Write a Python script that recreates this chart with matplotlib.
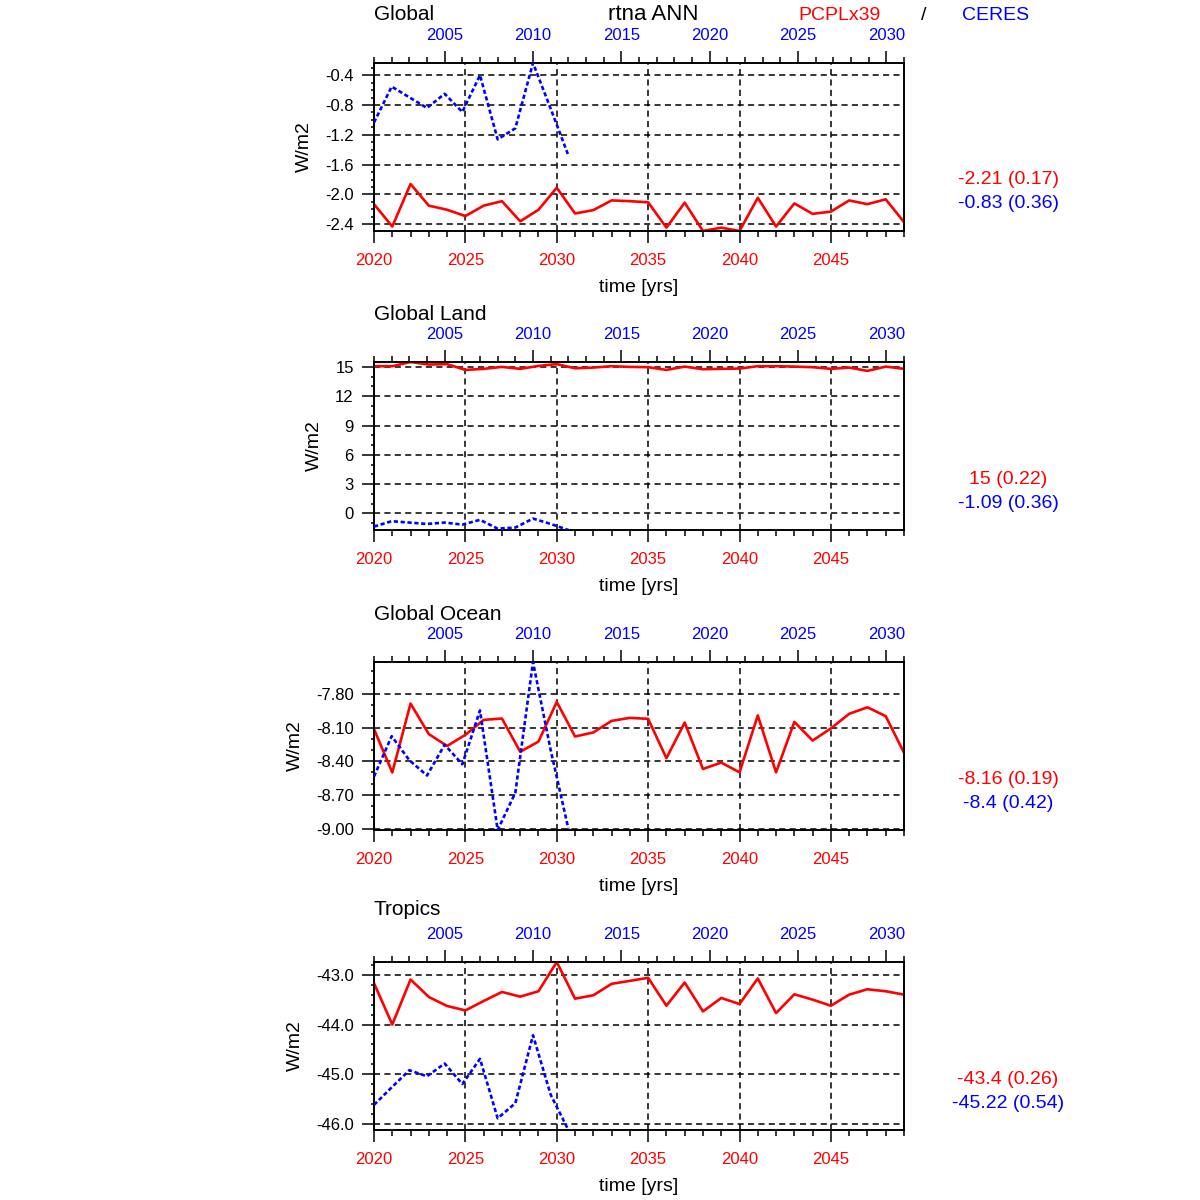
import matplotlib.pyplot as plt
import matplotlib.ticker as mticker

plt.rcParams['font.family'] = ['Liberation Sans', 'DejaVu Sans']

# years for the model run (bottom axis) and for the observations (top axis)
model_years = list(range(2020, 2050))
obs_years = list(range(2001, 2013))

regions = ["Global", "Global Land", "Global Ocean", "Tropics"]

model_global = [-2.13, -2.43, -1.86, -2.15, -2.205, -2.29, -2.15, -2.09, -2.36, -2.205,
                -1.91, -2.255, -2.21, -2.08, -2.09, -2.105, -2.445, -2.11, -2.49, -2.445,
                -2.49, -2.045, -2.43, -2.12, -2.26, -2.23, -2.08, -2.13, -2.065, -2.37]
obs_global = [-1.035, -0.554, -0.697, -0.84, -0.65, -0.894, -0.40, -1.262, -1.112, -0.237,
              -0.85, -1.475]

model_land = [15.07, 15.07, 15.5, 15.24, 15.28, 14.69, 14.8, 15.0, 14.8, 15.1,
              15.28, 14.86, 14.93, 15.07, 15.0, 14.97, 14.69, 15.03, 14.76, 14.8,
              14.83, 15.07, 15.07, 15.03, 14.97, 14.8, 14.93, 14.59, 15.03, 14.8]
obs_land = [-1.34, -0.79, -0.93, -1.07, -0.93, -1.14, -0.65, -1.55, -1.44, -0.52,
            -1.07, -1.69]

model_ocean = [-8.114, -8.50, -7.887, -8.159, -8.264, -8.165, -8.032, -8.02, -8.316, -8.225,
               -7.872, -8.18, -8.144, -8.041, -8.014, -8.023, -8.373, -8.056, -8.469, -8.412,
               -8.499, -7.993, -8.499, -8.05, -8.216, -8.108, -7.978, -7.92, -7.999, -8.325]
obs_ocean = [-8.536, -8.177, -8.391, -8.527, -8.253, -8.427, -7.948, -9.012, -8.68, -7.517,
             -8.30, -9.0]

model_tropics = [-43.169, -44.0, -43.095, -43.446, -43.628, -43.716, -43.527, -43.345, -43.439, -43.331,
                 -42.743, -43.48, -43.412, -43.182, -43.122, -43.061, -43.622, -43.155, -43.736, -43.466,
                 -43.588, -43.074, -43.77, -43.392, -43.5, -43.622, -43.399, -43.291, -43.331, -43.399]
obs_tropics = [-45.615, -45.264, -44.919, -45.04, -44.784, -45.196, -44.689, -45.885, -45.581, -44.216,
               -45.41, -46.12]

model_series = [model_global, model_land, model_ocean, model_tropics]
obs_series = [obs_global, obs_land, obs_ocean, obs_tropics]

# mean (std) labels shown to the right of each panel
model_stats = ["-2.21 (0.17)", "15 (0.22)", "-8.16 (0.19)", "-43.4 (0.26)"]
obs_stats = ["-0.83 (0.36)", "-1.09 (0.36)", "-8.4 (0.42)", "-45.22 (0.54)"]

y_major = [0.4, 3, 0.3, 1.0]
y_minor = [0.1, 1, 0.1, 0.2]
y_fmt = ['%.1f', '%d', '%.2f', '%.1f']

# panel frame tops in pixels and title baselines
frame_top = [63, 362, 662, 962]
title_base = [20, 320, 620, 915]

W = 1200.0
fig = plt.figure(figsize=(12, 12), dpi=100)

for i in range(4):
    top = frame_top[i]
    ax = fig.add_axes([374 / W, 1 - (top + 168) / W, 530 / W, 168 / W])

    ax.plot(model_years, model_series[i], color='red', lw=1.9, zorder=3)
    allv = model_series[i] + obs_series[i]
    ax.set_ylim(min(allv), max(allv))
    ax.set_xlim(2020, 2049)

    ax.xaxis.set_major_locator(mticker.MultipleLocator(5))
    ax.xaxis.set_minor_locator(mticker.MultipleLocator(1))
    ax.yaxis.set_major_locator(mticker.MultipleLocator(y_major[i]))
    ax.yaxis.set_minor_locator(mticker.MultipleLocator(y_minor[i]))
    ax.yaxis.set_major_formatter(mticker.FormatStrFormatter(y_fmt[i]))

    ax.tick_params(axis='x', which='both', direction='out', top=False, bottom=True,
                   colors='black', labelcolor='red', labelsize=12, width=1.1)
    ax.tick_params(axis='x', which='major', length=8.5, pad=7.5)
    ax.tick_params(axis='x', which='minor', length=4)
    ax.tick_params(axis='y', which='both', direction='out', right=False, left=True,
                   labelsize=12, width=1.1)
    ax.tick_params(axis='y', which='major', length=8.5, pad=6)
    ax.tick_params(axis='y', which='minor', length=2.5)

    ax.grid(True, which='major', color='black', lw=1.1, linestyle=(0, (4, 2.8)))
    for s in ax.spines.values():
        s.set_linewidth(1.2)

    ax.set_xlabel("time [yrs]", fontsize=14, labelpad=7.5)
    ax.set_ylabel("W/m2", fontsize=14, labelpad=9)

    ax2 = ax.twiny()
    ax2.plot(obs_years, obs_series[i], color='blue', lw=1.9, linestyle=(0, (1.6, 1.0)), zorder=3)
    ax2.set_xlim(2001, 2031)
    ax2.xaxis.set_major_locator(mticker.MultipleLocator(5))
    ax2.xaxis.set_minor_locator(mticker.MultipleLocator(1))
    ax2.tick_params(axis='x', which='both', direction='out', labelcolor='blue',
                    labelsize=12, width=1.1)
    ax2.tick_params(axis='x', which='major', length=8.5, pad=6)
    ax2.tick_params(axis='x', which='minor', length=4)
    for s in ax2.spines.values():
        s.set_linewidth(1.2)

    fig.text(374 / W, 1 - title_base[i] / W, regions[i], fontsize=15, ha='left', va='baseline')
    fig.text(1008 / W, 1 - (top + 117) / W, model_stats[i], color='red', fontsize=14,
             ha='center', va='center')
    fig.text(1008 / W, 1 - (top + 141) / W, obs_stats[i], color='blue', fontsize=14,
             ha='center', va='center')

fig.text(653 / W, 1 - 20 / W, "rtna ANN", fontsize=16, ha='center', va='baseline')
fig.text(840 / W, 1 - 20 / W, "PCPLx39", fontsize=14, color='red', ha='center', va='baseline')
fig.text(924 / W, 1 - 20 / W, "/", fontsize=14, ha='center', va='baseline')
fig.text(996 / W, 1 - 20 / W, "CERES", fontsize=14, color='blue', ha='center', va='baseline')

fig.savefig("out.png", dpi=100)
